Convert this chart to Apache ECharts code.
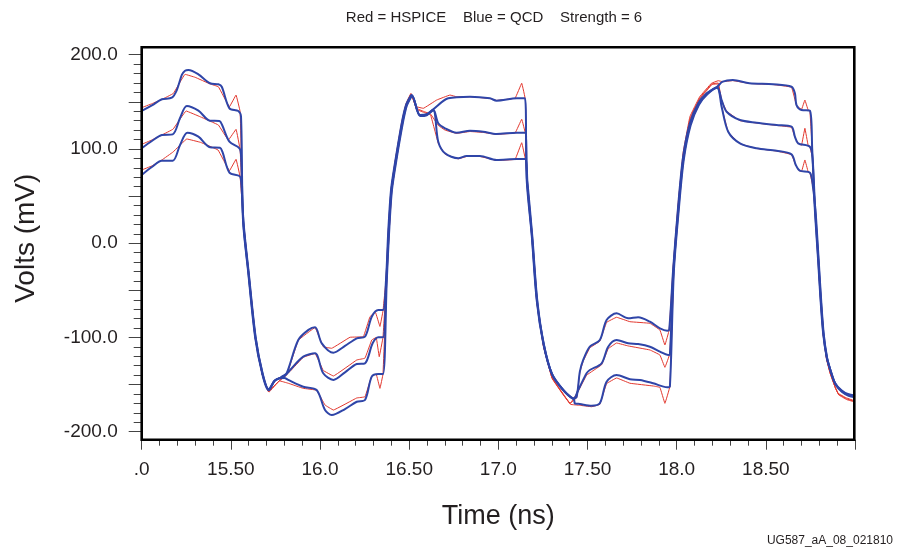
<!DOCTYPE html>
<html>
<head>
<meta charset="utf-8">
<script src="https://cdn.jsdelivr.net/npm/echarts@6/dist/echarts.min.js"></script>
<style>
html,body{margin:0;padding:0;background:#fff;}
#chart{width:906px;height:550px;}
</style>
</head>
<body>
<div id="chart"></div>
<script>
// ---- tick labels ----
var xTickValues = [15.0, 15.5, 16.0, 16.5, 17.0, 17.5, 18.0, 18.5, 19.0];
var xTickLabels = ['.0', '15.50', '16.0', '16.50', '17.0', '17.50', '18.0', '18.50', ''];
var yTickValues = [-200, -100, 0, 100, 200];
var yTickLabels = ['-200.0', '-100.0', '0.0', '100.0', '200.0'];

// ---- QCD (blue) waveforms: [time ns, mV] ----
var qcdA = [[15.000,140.3],[15.057,146.2],[15.113,152.7],[15.169,154.4],[15.197,162.5],[15.225,178.5],[15.243,183.0],[15.262,183.8],[15.318,179.2],[15.383,169.7],[15.430,168.6],[15.449,166.0],[15.492,143.1],[15.542,140.3],[15.557,134.2],
[15.568,24.6],[15.596,-28.5],[15.636,-99.6],[15.675,-137.8],[15.710,-155.8],[15.745,-146],[15.772,-143.3],[15.790,-141],[15.813,-138.0],[15.878,-102.7],[15.935,-92],[15.972,-89.2],[16.010,-106.2],[16.075,-116.2],[16.140,-109],[16.206,-100.9],[16.252,-99.2],[16.290,-78.0],[16.327,-70.9],[16.353,-70.9],
[16.370,-39.0],[16.383,14.0],[16.398,56.4],[16.420,84.8],[16.458,127.2],[16.482,146.6],[16.508,156.2],[16.514,157.2],[16.561,136.0],[16.598,136.8],[16.635,142.1],[16.719,153.7],[16.841,155.4],[16.953,153.7],[16.990,151.2],[17.103,153.7],[17.149,153.7],
[17.159,67.1],[17.187,8.7],[17.215,-60.3],[17.252,-106.2],[17.299,-138.0],[17.364,-155.8],[17.420,-164.6],[17.439,-162.9],[17.457,-136.3],[17.476,-123.9],[17.513,-109.8],[17.569,-102.7],[17.607,-81.5],[17.663,-74.4],[17.728,-79.7],[17.784,-78.6],[17.850,-83.3],[17.906,-90.3],[17.947,-92.8],[17.958,-92.1],
[17.980,-28.4],[18.008,38.7],[18.036,91.8],[18.074,127.2],[18.121,148.4],[18.168,159.0],[18.227,166.0],[18.258,171.4],[18.315,173.2],[18.408,169.7],[18.541,168.6],[18.644,166.0],[18.663,159.0],[18.672,146.6],[18.700,141.3],[18.747,140.6],
[18.760,100],[18.774,38.7],[18.793,-17.8],[18.805,-55],[18.821,-95],[18.840,-120],[18.859,-133],[18.887,-148],[18.924,-156],[18.960,-160],[19.0,-161.5]];

var qcdB = [[15.000,100.7],[15.057,108.4],[15.113,114.8],[15.174,115.5],[15.215,132.8],[15.253,145.6],[15.318,140.6],[15.383,130.0],[15.436,129.7],[15.451,125.4],[15.492,107.7],[15.548,100.7],[15.557,93.6],
[15.570,22],[15.598,-30],[15.638,-100],[15.677,-138],[15.712,-155],[15.745,-146],[15.772,-143.3],[15.800,-141],[15.832,-134.5],[15.906,-120.4],[15.972,-116.8],[16.018,-138.0],[16.075,-145.1],[16.140,-137],[16.206,-128.2],[16.252,-127.4],[16.295,-106.2],[16.327,-99.8],[16.353,-99.8],
[16.372,-40],[16.385,12],[16.400,55],[16.422,84],[16.460,126],[16.484,146],[16.510,156],[16.516,156.5],[16.561,135.5],[16.598,136.3],[16.635,141.5],[16.663,127.2],[16.701,121.9],[16.766,117.2],[16.841,119.4],[16.915,118.3],[16.990,115.9],[17.103,117.2],[17.149,117.2],
[17.161,66],[17.189,7],[17.217,-61],[17.254,-107],[17.301,-139],[17.366,-156],[17.422,-165],[17.448,-155.8],[17.457,-152.3],[17.495,-138.0],[17.513,-134.5],[17.579,-127.4],[17.616,-109.8],[17.663,-102.7],[17.728,-106.2],[17.784,-107.0],[17.850,-109.8],[17.906,-115.1],[17.952,-118.6],[17.962,-118],
[17.982,-30],[18.010,37],[18.038,90],[18.076,126],[18.123,147.5],[18.170,158.5],[18.227,165.5],[18.252,151.9],[18.280,139.5],[18.355,130.7],[18.448,127.9],[18.560,125.4],[18.644,123.6],[18.663,113.0],[18.681,106.0],[18.747,102.4],
[18.762,90],[18.776,37],[18.795,-19],[18.807,-56],[18.823,-96],[18.842,-121],[18.861,-134],[18.889,-149],[18.926,-157],[18.962,-161],[19.0,-162.5]];

var qcdC = [[15.000,72.4],[15.057,80.8],[15.113,87.5],[15.174,87.5],[15.215,104.2],[15.256,117.2],[15.318,113.0],[15.383,101.8],[15.439,101.3],[15.453,96.8],[15.492,74.8],[15.548,71.3],[15.557,67.1],
[15.572,20],[15.600,-31],[15.640,-101],[15.679,-139],[15.714,-156],[15.745,-146],[15.772,-143.3],[15.800,-143],[15.822,-145.1],[15.906,-152.3],[15.981,-155.8],[16.028,-177.0],[16.066,-182.3],[16.140,-176],[16.206,-168.2],[16.252,-166.4],[16.290,-141.6],[16.327,-138.8],[16.353,-138.8],
[16.374,-41],[16.387,10],[16.402,54],[16.424,83],[16.462,125],[16.486,145.5],[16.512,155.5],[16.518,156],[16.561,135],[16.598,135.8],[16.635,141],[16.663,107.7],[16.701,95.4],[16.775,90.1],[16.822,92.5],[16.897,92.5],[16.990,88.3],[17.103,89.3],[17.149,89.3],
[17.163,65],[17.191,6],[17.219,-62],[17.256,-108],[17.303,-140],[17.368,-157],[17.424,-166],[17.429,-169.9],[17.457,-170.6],[17.523,-172.4],[17.569,-169.9],[17.607,-146.9],[17.663,-139.8],[17.738,-144.4],[17.794,-145.1],[17.868,-148.6],[17.947,-152.9],[17.962,-152],
[17.984,-31],[18.012,36],[18.040,89],[18.078,125],[18.125,147],[18.172,158],[18.227,165],[18.252,144.8],[18.289,118.3],[18.355,106.0],[18.448,100.7],[18.560,98.1],[18.644,94.3],[18.668,83.0],[18.690,76.9],[18.747,74.8],
[18.764,60],[18.778,36],[18.797,-20],[18.809,-57],[18.825,-97],[18.844,-122],[18.863,-135],[18.891,-150],[18.928,-158],[18.964,-162],[19.0,-163.5]];

// ---- HSPICE (red) waveforms ----
var hspA = [[15.000,143.8],[15.057,148],[15.113,152.5],[15.178,159.0],[15.243,179.2],[15.300,176],[15.383,169],[15.430,166.0],[15.492,144.8],[15.529,157.2],[15.552,139.5],
[15.568,24.6],[15.596,-28.5],[15.636,-100.5],[15.675,-139],[15.710,-157.5],[15.772,-146],[15.813,-140],[15.878,-103],[15.972,-89.5],[16.018,-109.8],[16.065,-111.5],[16.168,-99.8],[16.243,-99.2],[16.280,-78],[16.310,-73],[16.336,-88.3],[16.353,-72],
[16.370,-39],[16.383,14],[16.398,57],[16.420,86],[16.458,129],[16.482,148],[16.510,159.0],[16.542,144.8],[16.579,143.1],[16.654,151.9],[16.729,157.2],[16.766,155.4],[16.841,155.4],[16.953,153.5],[16.990,151.5],[17.094,153.9],[17.131,169.7],[17.152,152],
[17.159,67],[17.187,8],[17.215,-62],[17.252,-109],[17.299,-142],[17.364,-160],[17.401,-169.9],[17.439,-164],[17.457,-137],[17.476,-125],[17.513,-111],[17.569,-104],[17.607,-84],[17.663,-78.6],[17.738,-83.3],[17.850,-85.0],[17.906,-92.1],[17.934,-108.0],[17.958,-92],
[17.980,-25],[18.008,42],[18.036,96],[18.074,134.2],[18.129,155.4],[18.195,169.7],[18.233,172.4],[18.258,171.4],[18.315,172.5],[18.408,169.5],[18.541,168.3],[18.644,165.5],[18.672,146],[18.700,141.9],[18.719,151.9],[18.737,141.3],[18.747,140.6],
[18.760,100],[18.774,38],[18.793,-18],[18.805,-56],[18.821,-97],[18.840,-123],[18.859,-137],[18.887,-152],[18.905,-159.3],[18.950,-164],[19.0,-167.4]];

var hspB = [[15.000,104.9],[15.057,109.5],[15.113,114.8],[15.176,121],[15.249,140.3],[15.330,134],[15.430,125.4],[15.486,109.5],[15.529,120.8],[15.552,98.9],
[15.570,22],[15.598,-30],[15.638,-101],[15.677,-140],[15.712,-157],[15.772,-146],[15.832,-136],[15.906,-121],[15.972,-117],[16.018,-135],[16.075,-140.9],[16.206,-123.9],[16.252,-122],[16.290,-102.7],[16.315,-100],[16.332,-120.4],[16.353,-100],
[16.372,-40],[16.385,12],[16.400,56],[16.422,85],[16.460,128],[16.484,147.5],[16.510,158],[16.542,143],[16.579,140],[16.620,137],[16.663,125],[16.701,120],[16.766,116.5],[16.841,118.5],[16.915,117.5],[16.990,115.5],[17.094,117],[17.131,131.5],[17.152,116],
[17.161,66],[17.189,7],[17.217,-63],[17.254,-110],[17.301,-143],[17.366,-161],[17.403,-170],[17.448,-157],[17.495,-140],[17.579,-129],[17.616,-112],[17.663,-105.9],[17.728,-109],[17.850,-113.3],[17.906,-118.6],[17.934,-131.7],[17.962,-117],
[17.982,-27],[18.010,41],[18.038,95],[18.076,133],[18.131,154.5],[18.197,169],[18.233,170],[18.252,152],[18.280,140],[18.355,130],[18.448,127.5],[18.560,125],[18.644,123],[18.663,112.5],[18.681,106],[18.700,104],[18.719,121.9],[18.737,104],[18.747,102.4],
[18.762,90],[18.776,37],[18.795,-19],[18.807,-57],[18.823,-98],[18.842,-124],[18.861,-138],[18.889,-153],[18.907,-160],[18.952,-165],[19.0,-168]];

var hspC = [[15.000,77.7],[15.057,82],[15.113,88.3],[15.176,96.8],[15.253,110.6],[15.330,107],[15.428,98.9],[15.492,76.9],[15.529,89.0],[15.552,70.2],
[15.572,20],[15.600,-31],[15.640,-102],[15.679,-141],[15.714,-158],[15.772,-146],[15.822,-148.6],[15.906,-154],[15.981,-156],[16.028,-171.7],[16.075,-177.0],[16.206,-164.2],[16.252,-163],[16.290,-140.9],[16.315,-139],[16.336,-154.0],[16.353,-139],
[16.374,-41],[16.387,10],[16.402,55],[16.424,84],[16.462,127],[16.486,147],[16.512,157.5],[16.542,142],[16.579,139],[16.620,136],[16.663,106],[16.701,94.5],[16.775,89.5],[16.822,92],[16.897,92],[16.990,87.8],[17.094,89],[17.131,106.6],[17.152,88.5],
[17.163,65],[17.191,6],[17.219,-64],[17.256,-111],[17.303,-144],[17.368,-162],[17.405,-171],[17.457,-172],[17.523,-173.5],[17.569,-171],[17.607,-149],[17.663,-143.0],[17.738,-148.6],[17.868,-151.5],[17.906,-153],[17.934,-169.9],[17.962,-152],
[17.984,-29],[18.012,40],[18.040,94],[18.078,132],[18.133,154],[18.199,168.5],[18.233,169],[18.252,145],[18.289,118],[18.355,105.5],[18.448,100.5],[18.560,97.8],[18.644,94],[18.668,82.5],[18.690,76.5],[18.700,76],[18.719,88.3],[18.737,76],[18.747,74.8],
[18.764,60],[18.778,35],[18.797,-21],[18.809,-58],[18.825,-99],[18.844,-125],[18.863,-139],[18.891,-154],[18.909,-161],[18.954,-166],[19.0,-168.5]];

var titleText = 'Red = HSPICE    Blue = QCD    Strength = 6';
var xName = 'Time (ns)';
var yName = 'Volts (mV)';
var footText = 'UG587_aA_08_021810';

var RED = '#e2382f';
var BLUE = '#2f45a8';
var FONT = 'Liberation Sans';
var TXT = '#231f20';

function lineSeries(name, data, color, width, smooth) {
  return {
    name: name, type: 'line', data: data, showSymbol: false,
    smooth: smooth,
    animation: false, silent: true, clip: true,
    lineStyle: { color: color, width: width }
  };
}

var chart = echarts.init(document.getElementById('chart'), null, { renderer: 'canvas' });
chart.setOption({
  backgroundColor: '#ffffff',
  animation: false,
  grid: { left: 141.7, right: 51, top: 54.7, bottom: 118.3, containLabel: false },
  xAxis: {
    type: 'value', min: 15, max: 19, interval: 0.5, offset: 8,
    axisLine: { show: false, onZero: false },
    axisTick: { show: true, length: 10, lineStyle: { color: '#444', width: 1 } },
    minorTick: { show: true, splitNumber: 5, length: 6, lineStyle: { color: '#444', width: 1 } },
    splitLine: { show: false },
    axisLabel: {
      margin: 21, fontFamily: FONT, fontSize: 19, color: TXT,
      formatter: function (v) {
        for (var i = 0; i < xTickValues.length; i++) if (Math.abs(xTickValues[i] - v) < 1e-6) return xTickLabels[i];
        return '';
      }
    },
    name: xName, nameLocation: 'middle', nameGap: 63,
    nameTextStyle: { fontFamily: FONT, fontSize: 27, color: TXT }
  },
  yAxis: {
    type: 'value', min: -200, max: 200, interval: 50,
    axisLine: { show: false, onZero: false },
    axisTick: { show: true, length: 13, lineStyle: { color: '#444', width: 1 } },
    minorTick: { show: true, splitNumber: 5, length: 8, lineStyle: { color: '#444', width: 1 } },
    splitLine: { show: false },
    axisLabel: {
      margin: 24, fontFamily: FONT, fontSize: 19, color: TXT,
      formatter: function (v) {
        for (var i = 0; i < yTickValues.length; i++) if (Math.abs(yTickValues[i] - v) < 1e-6) return yTickLabels[i];
        return '';
      }
    },
    name: yName, nameLocation: 'middle', nameGap: 101, nameRotate: 90,
    nameTextStyle: { fontFamily: FONT, fontSize: 28, color: TXT, padding: [0, 0, 0, 10] }
  },
  graphic: [
    { type: 'rect', z: 100, silent: true,
      shape: { x: 141.7, y: 47.3, width: 712.6, height: 392.4 },
      style: { fill: 'none', stroke: '#000', lineWidth: 2.6 } },
    { type: 'text', z: 100, silent: true, x: 494, y: 17.5,
      style: { text: titleText, font: '15px "Liberation Sans"', fill: TXT, align: 'center', verticalAlign: 'middle' } },
    { type: 'text', z: 100, silent: true, x: 893, y: 541,
      style: { text: footText, font: '12px "Liberation Sans"', fill: TXT, align: 'right', verticalAlign: 'middle' } }
  ],
  series: [
    lineSeries('HSPICE A', hspA, RED, 1, 0.05),
    lineSeries('HSPICE B', hspB, RED, 1, 0.05),
    lineSeries('HSPICE C', hspC, RED, 1, 0.05),
    lineSeries('QCD A', qcdA, BLUE, 2, 0.3),
    lineSeries('QCD B', qcdB, BLUE, 2, 0.3),
    lineSeries('QCD C', qcdC, BLUE, 2, 0.3)
  ]
});
</script>
</body>
</html>
